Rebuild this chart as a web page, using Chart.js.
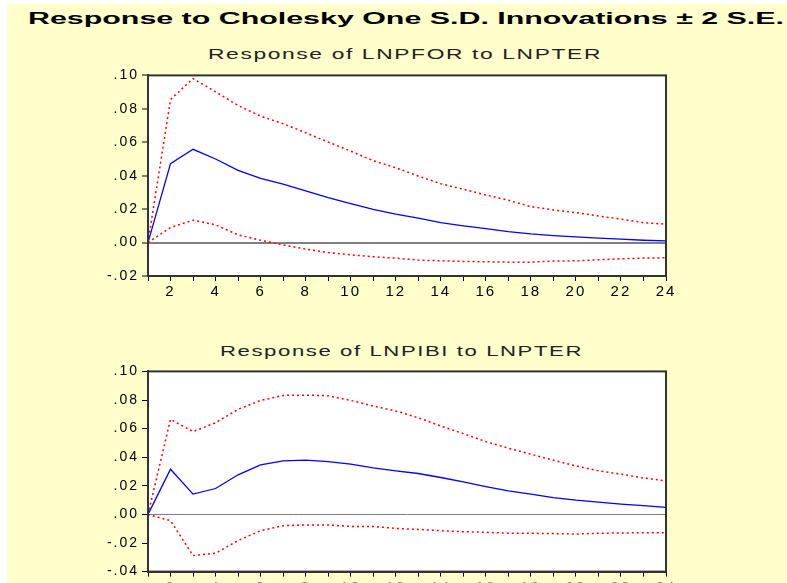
<!DOCTYPE html>
<html>
<head>
<meta charset="utf-8">
<script src="https://cdn.jsdelivr.net/npm/chart.js@4.4.1/dist/chart.umd.min.js"></script>
<style>
  html, body { margin: 0; padding: 0; background: #fff; }
  #page {
    position: absolute; left: 7px; top: 4px; width: 780px; height: 579px;
    background: #FFFFCC; overflow: hidden;
  }
  .txt {
    position: absolute; white-space: nowrap; line-height: 1;
    font-family: "Liberation Sans", Arial, sans-serif; transform-origin: 0 0;
  }
  #mainTitle { font-size: 16px; font-weight: bold; color: #000; }
  .sub { font-size: 14px; color: #222; letter-spacing: 1px; }
  canvas { position: absolute; left: 0; }
</style>
</head>
<body>
<div id="page"></div>
<span id="mainTitle" class="txt">Response to Cholesky One S.D. Innovations ± 2 S.E.</span>
<span id="sub1" class="txt sub">Response of LNPFOR to LNPTER</span>
<span id="sub2" class="txt sub">Response of LNPIBI to LNPTER</span>
<canvas id="chartTop" width="787" height="240" style="top:64px"></canvas>
<canvas id="chartBottom" width="787" height="223" style="top:360px"></canvas>

<script>
// periods (horizon)
const periods = [1, 2, 3, 4, 5, 6, 7, 8, 9, 10, 11, 12, 13, 14, 15, 16, 17, 18, 19, 20, 21, 22, 23, 24];

// Response of LNPFOR to LNPTER
const pforResp  = [0, 0.0472, 0.0558, 0.0500, 0.0432, 0.0384, 0.0349, 0.0309, 0.0269, 0.0233, 0.0199, 0.0170,
                   0.0146, 0.0119, 0.0100, 0.0084, 0.0066, 0.0052, 0.0042, 0.0034, 0.0026, 0.0020, 0.0014, 0.0010];
const pforUpper = [0, 0.0856, 0.0981, 0.0902, 0.0820, 0.0756, 0.0711, 0.0657, 0.0601, 0.0547, 0.0490, 0.0448,
                   0.0398, 0.0352, 0.0319, 0.0285, 0.0253, 0.0215, 0.0195, 0.0179, 0.0159, 0.0140, 0.0119, 0.0110];
const pforLower = [0, 0.0090, 0.0134, 0.0106, 0.0046, 0.0014, -0.0014, -0.0039, -0.0060, -0.0073, -0.0085, -0.0093,
                   -0.0105, -0.0109, -0.0113, -0.0115, -0.0117, -0.0117, -0.0111, -0.0109, -0.0103, -0.0097, -0.0093, -0.0091];

// Response of LNPIBI to LNPTER
const pibiResp  = [0, 0.0316, 0.0142, 0.0181, 0.0277, 0.0346, 0.0374, 0.0379, 0.0369, 0.0351, 0.0325, 0.0305,
                   0.0286, 0.0258, 0.0228, 0.0195, 0.0165, 0.0142, 0.0118, 0.0100, 0.0086, 0.0072, 0.0061, 0.0049];
const pibiUpper = [0, 0.0665, 0.0579, 0.0641, 0.0735, 0.0797, 0.0832, 0.0834, 0.0830, 0.0797, 0.0758, 0.0723,
                   0.0676, 0.0618, 0.0565, 0.0509, 0.0463, 0.0421, 0.0379, 0.0339, 0.0305, 0.0282, 0.0254, 0.0235];
const pibiLower = [0, -0.0044, -0.0288, -0.0272, -0.0183, -0.0114, -0.0079, -0.0074, -0.0074, -0.0084, -0.0084, -0.0098,
                   -0.0105, -0.0114, -0.0121, -0.0125, -0.0132, -0.0132, -0.0134, -0.0137, -0.0132, -0.0130, -0.0128, -0.0128];

// y ranges
const topRange = [-0.02, 0.10];
const bottomRange = [-0.04, 0.10];

// stretch a text span so it covers a given width (EViews-style wide text)
function fitText(id, left, width, top) {
  const el = document.getElementById(id);
  const w = el.getBoundingClientRect().width;
  el.style.top = top + 'px';
  el.style.left = left + 'px';
  el.style.transform = 'scaleX(' + (width / w) + ')';
}
fitText('mainTitle', 28, 756, 10.5);
fitText('sub1', 208, 394, 46.5);
fitText('sub2', 220, 363, 343.5);

// white plot area, frame, and wide tick text
const panelPlugin = {
  id: 'panel',
  beforeDraw(chart) {
    const a = chart.chartArea;
    const ctx = chart.ctx;
    ctx.save();
    ctx.fillStyle = '#fff';
    ctx.fillRect(a.left, a.top, a.right - a.left, a.bottom - a.top);
    ctx.restore();
    ctx.letterSpacing = '2px';
  },
  afterDatasetsDraw(chart) {
    const a = chart.chartArea;
    const ctx = chart.ctx;
    ctx.save();
    ctx.strokeStyle = '#333';
    ctx.lineWidth = 2;
    ctx.strokeRect(a.left, a.top, a.right - a.left, a.bottom - a.top);
    ctx.restore();
  },
  afterDraw(chart) {
    chart.ctx.letterSpacing = '0px';
  }
};

function makePanel(canvasId, resp, upper, lower, range, xHeight, zeroWidth) {
  const ctx = document.getElementById(canvasId).getContext('2d');
  const band = (data) => ({
    data: data,
    borderColor: '#ff0000',
    borderWidth: 1.5,
    borderDash: [2, 3],
    pointRadius: 0,
    tension: 0
  });

  new Chart(ctx, {
    type: 'line',
    data: {
      labels: periods,
      datasets: [
        { data: resp, borderColor: '#0000ff', borderWidth: 1.3, pointRadius: 0, tension: 0 },
        band(upper),
        band(lower)
      ]
    },
    options: {
      responsive: false,
      animation: false,
      layout: { padding: { top: 11, right: 121, left: 0, bottom: 0 } },
      plugins: { legend: { display: false }, tooltip: { enabled: false }, title: { display: false } },
      scales: {
        x: {
          offset: false,
          afterFit: (s) => { s.height = xHeight; },
          border: { display: true, color: '#333', width: 2 },
          grid: { drawOnChartArea: false, drawTicks: true, tickLength: 5, tickColor: '#000', tickWidth: 1 },
          ticks: {
            autoSkip: false, maxRotation: 0, padding: 2, color: '#000',
            font: { family: 'Liberation Sans', size: 15 },
            callback: (v, i) => (periods[i] % 2 === 0 ? String(periods[i]) : '')
          }
        },
        y: {
          min: range[0],
          max: range[1],
          afterFit: (s) => { s.width = 148; },
          border: { display: true, color: '#333', width: 2 },
          grid: {
            drawOnChartArea: true,
            drawTicks: true,
            tickLength: 6,
            tickColor: '#000',
            tickWidth: 1,
            color: (c) => (c.tick && Math.abs(c.tick.value) < 1e-9 ? '#808080' : 'rgba(0,0,0,0)'),
            lineWidth: zeroWidth
          },
          ticks: {
            stepSize: 0.02, padding: 3, color: '#000',
            font: { family: 'Liberation Sans', size: 14 },
            callback: (v) => {
              const s = Math.abs(v).toFixed(2).replace(/^0/, '');
              return (v < -1e-9 ? '-' : '') + s;
            }
          }
        }
      }
    },
    plugins: [panelPlugin]
  });
}

makePanel('chartTop', pforResp, pforUpper, pforLower, topRange, 28, 2);
makePanel('chartBottom', pibiResp, pibiUpper, pibiLower, bottomRange, 11, 1);
</script>
</body>
</html>
